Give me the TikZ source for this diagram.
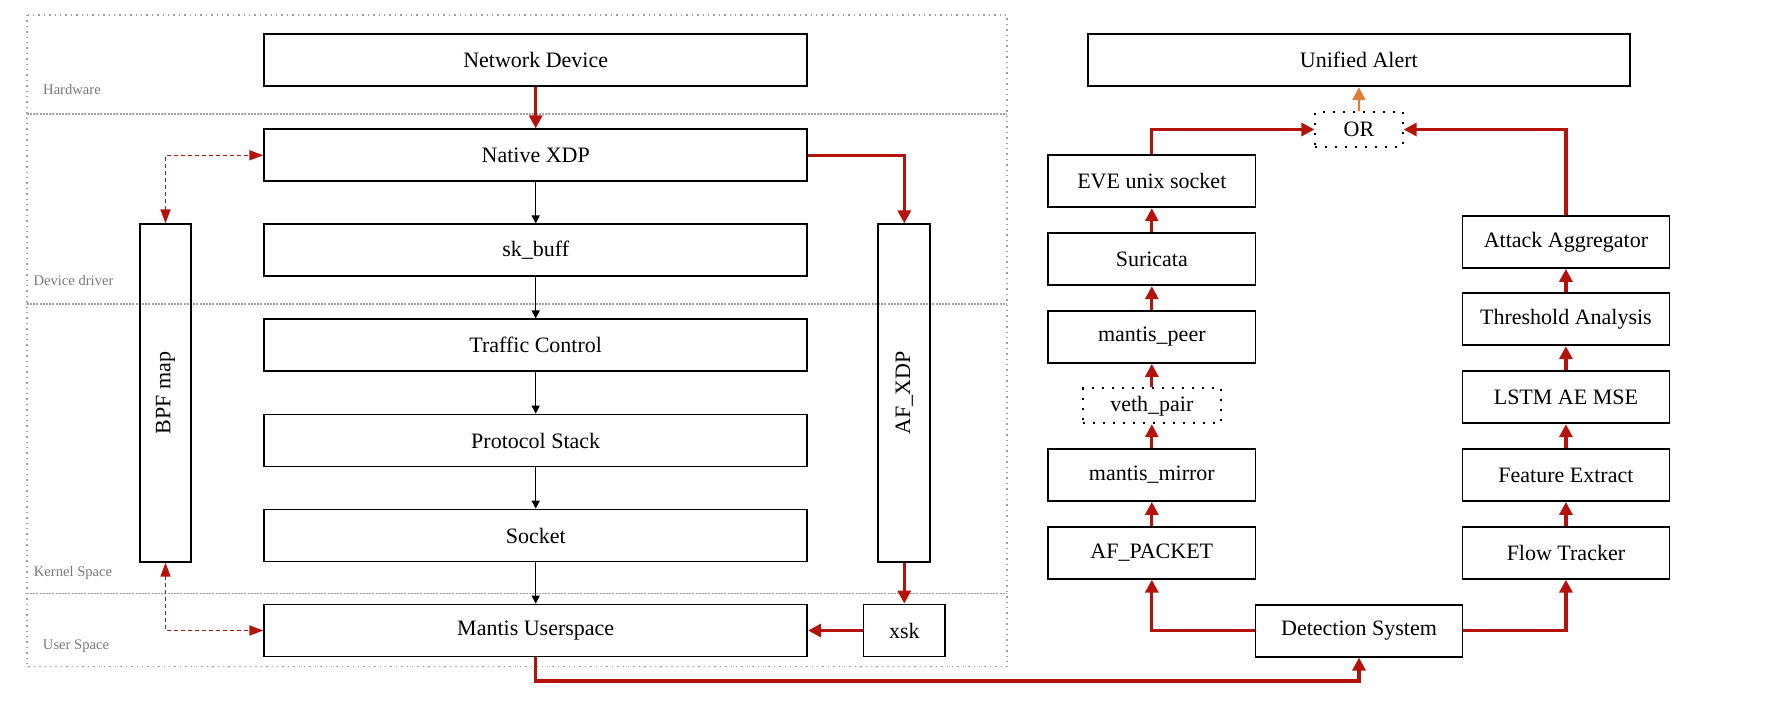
\documentclass[tikz,border=0pt]{standalone}
\usepackage{fontspec}
\setmainfont{Liberation Serif}
\usetikzlibrary{arrows.meta}

\definecolor{flowred}{RGB}{180,18,10}
\definecolor{alertorange}{RGB}{224,124,56}
\definecolor{framegray}{RGB}{160,160,160}
\definecolor{labelgray}{RGB}{120,120,120}

\begin{document}
\begin{tikzpicture}[x=0.5pt, y=-0.5pt,
  box/.style={draw, line width=0.9pt, minimum height=26pt, inner sep=0pt, font=\fontsize{11}{13}\selectfont},
  dotbox/.style={draw, line width=1pt, dash pattern=on 1pt off 4pt, minimum height=17.4pt, inner sep=0pt, font=\fontsize{11}{13}\selectfont},
  layerlab/.style={font=\fontsize{7.3}{9}\selectfont, text=labelgray},
  sepline/.style={framegray, line width=0.6pt, dash pattern=on 1pt off 0.6pt},
  blkarr/.style={-{Triangle[length=4pt, width=4pt]}, line width=0.75pt},
  redarr/.style={-{Triangle[length=6.5pt, width=6.5pt]}, flowred, line width=1.6pt},
  dasharr/.style={{Triangle[length=7pt, width=5pt]}-{Triangle[length=7pt, width=5pt]}, flowred, line width=0.8pt, dash pattern=on 2pt off 1.5pt},
  orarr/.style={-{Triangle[length=6.5pt, width=6.5pt]}, alertorange, line width=1.1pt}
]
\useasboundingbox (0,0) rectangle (1791,702);

% layers
\draw[framegray, line width=0.7pt, dotted] (26.8,15) rectangle (1007,666.7);
\draw[sepline] (26.8,114) -- (1007,114);
\draw[sepline] (26.8,304) -- (1007,304);
\draw[sepline] (26.8,593.3) -- (1007,593.3);
\node[layerlab] (hwlab) at (72,90) {Hardware};
\node[layerlab] (ddlab) at (73.5,280) {Device driver};
\node[layerlab] (kslab) at (73,572.7) {Kernel Space};
\node[layerlab] (uslab) at (76,646.7) {User Space};

% packet path
\node[box, minimum width=271.5pt] (netdev) at (535.7,60.3) {Network Device};
\node[box, minimum width=271.5pt] (natxdp) at (535.7,155.3) {Native XDP};
\node[box, minimum width=271.5pt] (skbuff) at (535.7,250.3) {sk\_buff};
\node[box, minimum width=271.5pt] (tc) at (535.7,345.3) {Traffic Control};
\node[box, minimum width=271.5pt] (pstack) at (535.7,440.5) {Protocol Stack};
\node[box, minimum width=271.5pt] (sock) at (535.7,535.5) {Socket};
\node[box, minimum width=271.5pt] (mantis) at (535.7,630.5) {Mantis Userspace};

\node[box, minimum width=25.8pt, minimum height=168.7pt] (bpf) at (165.5,393) {\rotatebox{90}{BPF map}};
\node[box, minimum width=26pt, minimum height=168.7pt] (afxdp) at (904.3,393) {\rotatebox{90}{AF\_XDP}};
\node[box, minimum width=40.8pt] (xsk) at (904.3,630.5) {xsk};

% detection side
\node[box, minimum width=270.9pt] (alert) at (1358.8,60.3) {Unified Alert};
\node[dotbox, minimum width=43.6pt] (or) at (1359,129.5) {OR};

\node[box, minimum width=103.7pt] (eve) at (1151.8,181.3) {EVE unix socket};
\node[box, minimum width=103.7pt] (suri) at (1151.8,259.3) {Suricata};
\node[box, minimum width=103.7pt] (peer) at (1151.8,337) {mantis\_peer};
\node[dotbox, minimum width=69pt] (veth) at (1151.8,405.8) {veth\_pair};
\node[box, minimum width=103.7pt] (mirror) at (1151.8,475) {mantis\_mirror};
\node[box, minimum width=103.7pt] (afpkt) at (1151.8,552.8) {AF\_PACKET};

\node[box, minimum width=103.5pt] (agg) at (1565.9,242) {Attack Aggregator};
\node[box, minimum width=103.5pt] (thr) at (1565.9,319.3) {Threshold Analysis};
\node[box, minimum width=103.5pt] (lstm) at (1565.9,397.3) {LSTM AE MSE};
\node[box, minimum width=103.5pt] (feat) at (1565.9,475) {Feature Extract};
\node[box, minimum width=103.5pt] (flow) at (1565.9,552.8) {Flow Tracker};

\node[box, minimum width=103.5pt] (det) at (1359,630.7) {Detection System};
\coordinate (lowrun) at (950,681);

% connectors
\draw[redarr] (netdev) -- (natxdp);
\foreach \a/\b in {natxdp/skbuff, skbuff/tc, tc/pstack, pstack/sock, sock/mantis}
  \draw[blkarr] (\a) -- (\b);
\draw[redarr] (natxdp.east) -| (afxdp.north);
\draw[redarr] (afxdp) -- (xsk);
\draw[redarr] (xsk) -- (mantis);
\draw[dasharr] (bpf.north) |- (natxdp.west);
\draw[dasharr] (bpf.south) |- (mantis.west);

\draw[redarr] (mantis.south) |- (lowrun) -| (det.south);
\draw[redarr] (det.west) -| (afpkt.south);
\draw[redarr] (det.east) -| (flow.south);
\foreach \a/\b in {afpkt/mirror, mirror/veth, veth/peer, peer/suri, suri/eve,
                   flow/feat, feat/lstm, lstm/thr, thr/agg}
  \draw[redarr] (\a) -- (\b);
\draw[redarr] (eve.north) |- (or.west);
\draw[redarr] (agg.north) |- (or.east);
\draw[orarr] (or) -- (alert);
\end{tikzpicture}
\end{document}
